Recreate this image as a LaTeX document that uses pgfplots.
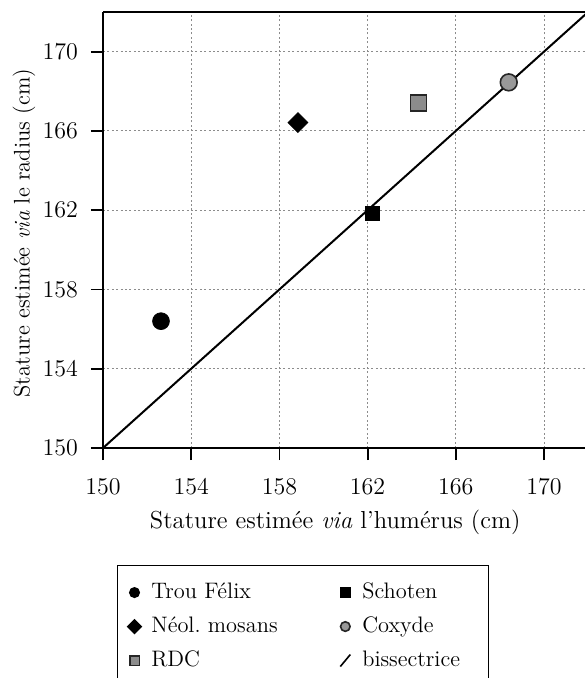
\documentclass[border=0pt]{standalone}
\usepackage{pgfplots}
\pgfplotsset{compat=1.18}
\pgfplotsset{
  mylegmark/.style={legend image code/.code={\path (-8pt,0pt) (8pt,0pt);\draw[##1, mark size=2.4pt] plot coordinates {(0pt,0pt)};}},
  myleglink/.style={legend image code/.code={\path (-8pt,0pt) (8pt,0pt);\draw[##1, line width=0.8pt] (-2.5pt,-3pt) -- (2.5pt,3pt);}},
}
\begin{document}
\begin{tikzpicture}[font=\fontsize{11.5}{13}\selectfont]
\begin{axis}[
  name=ax, at={(0pt,0pt)}, anchor=south west,
  width=240.9pt, height=218pt, scale only axis,
  xmin=150, xmax=171.85, ymin=150, ymax=172,
  axis x line*=bottom, axis y line*=left,
  axis line style={-, line width=0.9pt},
  xtick={150,154,...,170}, ytick={150,154,...,170},
  tick align=outside, major tick length=6pt,
  tick style={line width=0.9pt, black},
  grid=major, grid style={dash pattern=on 1pt off 1.2pt, black!45, line width=0.5pt},
  ticklabel style={font=\fontsize{11.6}{13}\selectfont},
  xticklabel style={yshift=-6pt},
  yticklabel style={xshift=-3pt},
  /pgf/number format/set thousands separator={},
  xlabel={Stature estimée \textit{via} l'humérus (cm)},
  ylabel={Stature estimée \textit{via} le radius (cm)},
  xlabel style={at={(axis description cs:0.482,0)}, anchor=center, yshift=-37pt, font=\fontsize{12.3}{14}\selectfont},
  ylabel style={at={(axis description cs:-0.164,0.493)}, anchor=center, font=\fontsize{11.3}{14}\selectfont},
  legend columns=2,
  legend style={at={(0.0291,-0.268)}, anchor=north west, draw=black, line width=0.7pt,
    inner xsep=0pt, inner ysep=8.25pt, row sep=6.5pt,
    nodes={inner xsep=0pt, inner ysep=0pt, text height=8pt, text depth=2.5pt},
    font=\fontsize{11.2}{13}\selectfont},
  legend cell align=left,
]
\addplot[only marks, mark=*, mark size=4.2pt, black, mylegmark] coordinates {(152.63,156.4)};
\addlegendentry{\makebox[88.5pt][l]{Trou Félix}}
\addplot[only marks, mark=square*, mark size=3.5pt, black, mylegmark] coordinates {(162.2,161.85)};
\addlegendentry{\makebox[63pt][l]{Schoten}}
\addplot[only marks, mark=square*, mark options={rotate=45}, mark size=3.5pt, black, mylegmark] coordinates {(158.84,166.42)};
\addlegendentry{\makebox[88.5pt][l]{Néol.\ mosans}}
\addplot[only marks, mark=*, mark size=4.2pt, draw=black!85, fill=black!40, line width=0.8pt, mylegmark] coordinates {(168.4,168.45)};
\addlegendentry{\makebox[63pt][l]{Coxyde}}
\addplot[only marks, mark=square*, mark size=4pt, draw=black!85, fill=black!45, line width=0.8pt, mylegmark] coordinates {(164.3,167.4)};
\addlegendentry{\makebox[88.5pt][l]{RDC}}
\addplot[black, line width=1pt, myleglink] coordinates {(150,150) (172,172)};
\addlegendentry{\makebox[63pt][l]{bissectrice}}
\end{axis}
\draw[line width=0.9pt] (ax.north west) -- (ax.north east);
\pgfresetboundingbox
\useasboundingbox (-51.5pt,-115pt) rectangle (241pt,224pt);
\end{tikzpicture}
\end{document}
